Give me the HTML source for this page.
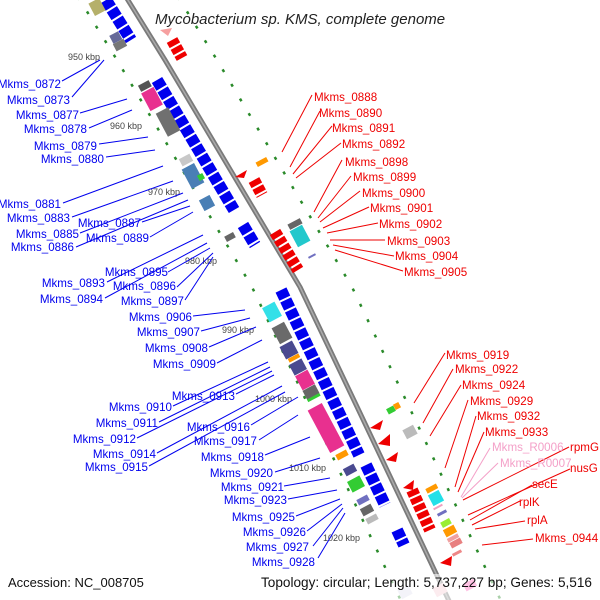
<!DOCTYPE html>
<html><head><meta charset="utf-8"><style>
html,body{margin:0;padding:0;background:#fff;}
svg{display:block;font-family:"Liberation Sans",sans-serif;}
.b{fill:#0000ee;font-size:11.6px;text-anchor:end}
.r{fill:#ee0000;font-size:11.6px}
.p{fill:#f4a0c8;font-size:11.6px}
.k{fill:#444;font-size:9px}
.bl{stroke:#0000ee;stroke-width:1}
.rl{stroke:#ee0000;stroke-width:1}
.pl{stroke:#f4a0c8;stroke-width:1}
</style></head><body>
<svg width="600" height="600" viewBox="0 0 600 600" xmlns="http://www.w3.org/2000/svg">
<defs>
<path id="bb" d="M126,-3 L165,60 L300,287 L360,413 L450,603"/>
</defs>
<use href="#bb" transform="translate(-48,0)" fill="none" stroke="#2a8a2a" stroke-width="2.5" stroke-dasharray="3 14"/>
<use href="#bb" transform="translate(52,0)" fill="none" stroke="#2a8a2a" stroke-width="2.5" stroke-dasharray="3 14"/>
<use href="#bb" fill="none" stroke="#7a7a7a" stroke-width="5" stroke-linejoin="round"/>
<use href="#bb" fill="none" stroke="#aaa" stroke-width="1.5" stroke-linejoin="round"/>
<g fill="none" stroke="#0000ee" stroke-width="12" stroke-dasharray="9 2">
<path d="M106,0 L131,40"/>
<path d="M157,80 L234,210"/>
<path d="M243,225 L255,245"/>
<path d="M281,290 L359,455"/>
<path d="M366,465 L385,505"/>
<path d="M397,530 L404,545"/>
</g>
<g fill="none" stroke="#ee0000" stroke-width="12" stroke-dasharray="6 2">
<path d="M172,40 L182,58"/>
<path d="M254,180 L262,195"/>
<path d="M275,232 L298,270"/>
<path d="M412,490 L430,530"/>
</g>
<g fill="#ee0000">
<polygon points="235,177 247,170 244,178"/>
<polygon points="370,428 383,420 380,430"/>
<polygon points="378,444 390,434 390,446"/>
<polygon points="386,460 398,452 396,462"/>
<polygon points="403,488 414,480 413,490"/>
<polygon points="440,563 452,556 451,566"/>
</g>
<polygon points="160,30 172,28 168,36" fill="#f6a0a0"/>
<rect x="-6" y="-7" width="12" height="14" fill="#b5b06a" transform="translate(97,7) rotate(-28)"/>
<rect x="-5" y="-5" width="10" height="9" fill="#666a99" transform="translate(116,38) rotate(-28)"/>
<rect x="-6" y="-4" width="12" height="8" fill="#777" transform="translate(120,45) rotate(-28)"/>
<rect x="-7" y="-4" width="12" height="7" fill="#555" transform="translate(146,86) rotate(-28)"/>
<rect x="-7" y="-10" width="14" height="20" fill="#e8308f" transform="translate(152,99) rotate(-28)"/>
<rect x="-7" y="-13" width="14" height="26" fill="#707070" transform="translate(168,122) rotate(-28)"/>
<rect x="-6" y="-4" width="12" height="8" fill="#c8c8c8" transform="translate(186,160) rotate(-28)"/>
<rect x="-7" y="-11" width="14" height="22" fill="#4a7fb5" transform="translate(193,176) rotate(-28)"/>
<rect x="-3" y="-3" width="6" height="6" fill="#33cc33" transform="translate(201,177) rotate(-28)"/>
<rect x="-6" y="-6" width="12" height="12" fill="#4a7fb5" transform="translate(207,203) rotate(-28)"/>
<rect x="-5" y="-3" width="10" height="6" fill="#666" transform="translate(230,237) rotate(-28)"/>
<rect x="-7" y="-8" width="14" height="16" fill="#33e0e8" transform="translate(272,312) rotate(-28)"/>
<rect x="-7" y="-9" width="14" height="18" fill="#6a6a6a" transform="translate(282,333) rotate(-28)"/>
<rect x="-7" y="-7" width="14" height="14" fill="#4a4a90" transform="translate(289,350) rotate(-28)"/>
<rect x="-6" y="-2" width="12" height="4" fill="#ff9900" transform="translate(294,358) rotate(-28)"/>
<rect x="-7" y="-6" width="14" height="12" fill="#4a4a90" transform="translate(298,367) rotate(-28)"/>
<rect x="-7" y="-8" width="14" height="16" fill="#e8308f" transform="translate(305,380) rotate(-28)"/>
<rect x="-7" y="-5" width="14" height="10" fill="#666" transform="translate(311,392) rotate(-28)"/>
<rect x="-7" y="-2" width="14" height="3" fill="#33cc33" transform="translate(314,398) rotate(-28)"/>
<rect x="-8" y="-24" width="16" height="48" fill="#e8308f" transform="translate(326,428) rotate(-28)"/>
<rect x="-6" y="-3" width="12" height="6" fill="#ff9900" transform="translate(342,455) rotate(-28)"/>
<rect x="-6" y="-4" width="12" height="8" fill="#4a4a90" transform="translate(350,470) rotate(-28)"/>
<rect x="-7" y="-6" width="14" height="12" fill="#33cc33" transform="translate(356,484) rotate(-28)"/>
<rect x="-6" y="-3" width="12" height="6" fill="#7070c0" transform="translate(363,500) rotate(-28)"/>
<rect x="-6" y="-4" width="12" height="8" fill="#666" transform="translate(367,510) rotate(-28)"/>
<rect x="-6" y="-3" width="12" height="6" fill="#bbb" transform="translate(372,519) rotate(-28)"/>
<rect x="-6" y="-2.5" width="12" height="5" fill="#ff9900" transform="translate(262,162) rotate(-28)"/>
<rect x="-7" y="-3" width="14" height="6" fill="#666" transform="translate(295,224) rotate(-28)"/>
<rect x="-7" y="-9" width="14" height="18" fill="#22c8cc" transform="translate(300,236) rotate(-28)"/>
<rect x="-4" y="-1" width="8" height="2" fill="#7070c0" transform="translate(312,256) rotate(-28)"/>
<rect x="-4" y="-3" width="8" height="6" fill="#33cc33" transform="translate(391,410) rotate(-28)"/>
<rect x="-3" y="-3" width="6" height="6" fill="#ff9900" transform="translate(397,406) rotate(-28)"/>
<rect x="-6" y="-5" width="12" height="10" fill="#bbb" transform="translate(410,432) rotate(-28)"/>
<rect x="-6" y="-3" width="12" height="5" fill="#ff9900" transform="translate(432,489) rotate(-28)"/>
<rect x="-6" y="-6" width="12" height="12" fill="#22e0e8" transform="translate(436,498) rotate(-28)"/>
<rect x="-5" y="-1" width="10" height="2" fill="#f0a0c0" transform="translate(438,507) rotate(-28)"/>
<rect x="-5" y="-1.5" width="10" height="3" fill="#7070c0" transform="translate(442,513) rotate(-28)"/>
<rect x="-5" y="-3" width="10" height="6" fill="#99ee33" transform="translate(446,523) rotate(-28)"/>
<rect x="-6" y="-4" width="12" height="8" fill="#ff9900" transform="translate(450,531) rotate(-28)"/>
<rect x="-6" y="-2" width="12" height="4" fill="#f0a0a0" transform="translate(453,538) rotate(-28)"/>
<rect x="-6" y="-3" width="12" height="6" fill="#e88080" transform="translate(456,543) rotate(-28)"/>
<rect x="-5" y="-1.5" width="10" height="3" fill="#e88" transform="translate(457,553) rotate(-28)"/>
<rect x="-6" y="-5" width="12" height="10" fill="#f8d0d8" transform="translate(440,590) rotate(-28)"/>
<rect x="-6" y="-4" width="12" height="8" fill="#ff66bb" transform="translate(470,585) rotate(-28)"/>
<rect x="-6" y="-5" width="12" height="10" fill="#e0e0f0" transform="translate(405,592) rotate(-28)"/>
<text class="k" x="68" y="60">950 kbp</text>
<text class="k" x="110" y="129">960 kbp</text>
<text class="k" x="148" y="195">970 kbp</text>
<text class="k" x="185" y="264">980 kbp</text>
<text class="k" x="222" y="333">990 kbp</text>
<text class="k" x="255" y="402">1000 kbp</text>
<text class="k" x="289" y="471">1010 kbp</text>
<text class="k" x="323" y="541">1020 kbp</text>
<g class="bl">
<line x1="62" y1="81" x2="100" y2="60"/>
<line x1="72" y1="97" x2="104" y2="60"/>
<line x1="80" y1="113" x2="127" y2="99"/>
<line x1="89" y1="128" x2="132" y2="110"/>
<line x1="99" y1="144" x2="148" y2="137"/>
<line x1="106" y1="157" x2="155" y2="150"/>
<line x1="63" y1="203" x2="163" y2="166"/>
<line x1="72" y1="217" x2="173" y2="181"/>
<line x1="80" y1="233" x2="183" y2="193"/>
<line x1="76" y1="247" x2="188" y2="200"/>
<line x1="142" y1="222" x2="190" y2="206"/>
<line x1="150" y1="237" x2="193" y2="212"/>
<line x1="107" y1="282" x2="203" y2="235"/>
<line x1="105" y1="298" x2="207" y2="243"/>
<line x1="168" y1="272" x2="210" y2="248"/>
<line x1="177" y1="287" x2="213" y2="253"/>
<line x1="185" y1="300" x2="213" y2="257"/>
<line x1="193" y1="316" x2="245" y2="310"/>
<line x1="201" y1="331" x2="250" y2="318"/>
<line x1="209" y1="347" x2="256" y2="327"/>
<line x1="217" y1="363" x2="262" y2="340"/>
<line x1="236" y1="394" x2="274" y2="375"/>
<line x1="173" y1="406" x2="268" y2="362"/>
<line x1="159" y1="422" x2="270" y2="367"/>
<line x1="137" y1="438" x2="272" y2="371"/>
<line x1="157" y1="453" x2="282" y2="386"/>
<line x1="149" y1="466" x2="285" y2="392"/>
<line x1="251" y1="425" x2="298" y2="397"/>
<line x1="259" y1="440" x2="298" y2="415"/>
<line x1="265" y1="455" x2="310" y2="437"/>
<line x1="275" y1="472" x2="320" y2="458"/>
<line x1="284" y1="486" x2="330" y2="478"/>
<line x1="288" y1="499" x2="337" y2="490"/>
<line x1="296" y1="516" x2="340" y2="499"/>
<line x1="307" y1="531" x2="342" y2="504"/>
<line x1="313" y1="546" x2="343" y2="508"/>
<line x1="318" y1="558" x2="345" y2="513"/>
</g>
<g class="rl">
<line x1="312" y1="95" x2="282" y2="152"/>
<line x1="320" y1="111" x2="290" y2="167"/>
<line x1="332" y1="126" x2="293" y2="174"/>
<line x1="341" y1="143" x2="296" y2="178"/>
<line x1="342" y1="160" x2="314" y2="212"/>
<line x1="351" y1="176" x2="318" y2="218"/>
<line x1="360" y1="191" x2="320" y2="222"/>
<line x1="369" y1="207" x2="323" y2="228"/>
<line x1="378" y1="223" x2="327" y2="233"/>
<line x1="385" y1="240" x2="330" y2="240"/>
<line x1="394" y1="256" x2="333" y2="245"/>
<line x1="403" y1="271" x2="335" y2="250"/>
<line x1="445" y1="353" x2="414" y2="403"/>
<line x1="453" y1="369" x2="423" y2="423"/>
<line x1="461" y1="385" x2="430" y2="436"/>
<line x1="468" y1="400" x2="445" y2="468"/>
<line x1="476" y1="416" x2="455" y2="487"/>
<line x1="484" y1="432" x2="458" y2="492"/>
<line x1="569" y1="447" x2="463" y2="500"/>
<line x1="570" y1="469" x2="468" y2="515"/>
<line x1="532" y1="485" x2="470" y2="520"/>
<line x1="520" y1="501" x2="472" y2="525"/>
<line x1="525" y1="521" x2="475" y2="529"/>
<line x1="533" y1="539" x2="482" y2="545"/>
</g>
<g class="pl">
<line x1="490" y1="448" x2="461" y2="497"/>
<line x1="498" y1="463" x2="462" y2="498"/>
</g>
<text class="b" x="61" y="88">Mkms_0872</text>
<text class="b" x="70" y="104">Mkms_0873</text>
<text class="b" x="79" y="119">Mkms_0877</text>
<text class="b" x="87" y="133">Mkms_0878</text>
<text class="b" x="97" y="150">Mkms_0879</text>
<text class="b" x="104" y="163">Mkms_0880</text>
<text class="b" x="61" y="208">Mkms_0881</text>
<text class="b" x="70" y="222">Mkms_0883</text>
<text class="b" x="79" y="238">Mkms_0885</text>
<text class="b" x="74" y="251">Mkms_0886</text>
<text class="b" x="141" y="227">Mkms_0887</text>
<text class="b" x="149" y="242">Mkms_0889</text>
<text class="b" x="105" y="287">Mkms_0893</text>
<text class="b" x="103" y="303">Mkms_0894</text>
<text class="b" x="168" y="276">Mkms_0895</text>
<text class="b" x="176" y="290">Mkms_0896</text>
<text class="b" x="184" y="305">Mkms_0897</text>
<text class="b" x="192" y="321">Mkms_0906</text>
<text class="b" x="200" y="336">Mkms_0907</text>
<text class="b" x="208" y="352">Mkms_0908</text>
<text class="b" x="216" y="368">Mkms_0909</text>
<text class="b" x="235" y="400">Mkms_0913</text>
<text class="b" x="172" y="411">Mkms_0910</text>
<text class="b" x="158" y="427">Mkms_0911</text>
<text class="b" x="136" y="443">Mkms_0912</text>
<text class="b" x="156" y="458">Mkms_0914</text>
<text class="b" x="148" y="471">Mkms_0915</text>
<text class="b" x="250" y="431">Mkms_0916</text>
<text class="b" x="257" y="445">Mkms_0917</text>
<text class="b" x="264" y="461">Mkms_0918</text>
<text class="b" x="273" y="477">Mkms_0920</text>
<text class="b" x="284" y="491">Mkms_0921</text>
<text class="b" x="287" y="504">Mkms_0923</text>
<text class="b" x="295" y="521">Mkms_0925</text>
<text class="b" x="306" y="536">Mkms_0926</text>
<text class="b" x="309" y="551">Mkms_0927</text>
<text class="b" x="315" y="566">Mkms_0928</text>
<text class="r" x="314" y="101">Mkms_0888</text>
<text class="r" x="319" y="117">Mkms_0890</text>
<text class="r" x="332" y="132">Mkms_0891</text>
<text class="r" x="342" y="148">Mkms_0892</text>
<text class="r" x="345" y="166">Mkms_0898</text>
<text class="r" x="353" y="181">Mkms_0899</text>
<text class="r" x="362" y="197">Mkms_0900</text>
<text class="r" x="370" y="212">Mkms_0901</text>
<text class="r" x="379" y="228">Mkms_0902</text>
<text class="r" x="387" y="245">Mkms_0903</text>
<text class="r" x="395" y="260">Mkms_0904</text>
<text class="r" x="404" y="276">Mkms_0905</text>
<text class="r" x="446" y="359">Mkms_0919</text>
<text class="r" x="455" y="373">Mkms_0922</text>
<text class="r" x="462" y="389">Mkms_0924</text>
<text class="r" x="470" y="405">Mkms_0929</text>
<text class="r" x="477" y="420">Mkms_0932</text>
<text class="r" x="485" y="436">Mkms_0933</text>
<text class="p" x="492" y="451">Mkms_R0006</text>
<text class="p" x="500" y="467">Mkms_R0007</text>
<text class="r" x="570" y="451">rpmG</text>
<text class="r" x="570" y="472">nusG</text>
<text class="r" x="532" y="488">secE</text>
<text class="r" x="519" y="506">rplK</text>
<text class="r" x="527" y="524">rplA</text>
<text class="r" x="535" y="542">Mkms_0944</text>
<text x="155" y="24" font-size="15" font-style="italic" fill="#222">Mycobacterium sp. KMS, complete genome</text>
<rect x="0" y="574" width="600" height="26" fill="#fff" fill-opacity="0.6"/>
<text x="8" y="587" font-size="13" fill="#111">Accession: NC_008705</text>
<text x="592" y="587" font-size="13.6" fill="#111" text-anchor="end">Topology: circular; Length: 5,737,227 bp; Genes: 5,516</text>
</svg>
</body></html>
